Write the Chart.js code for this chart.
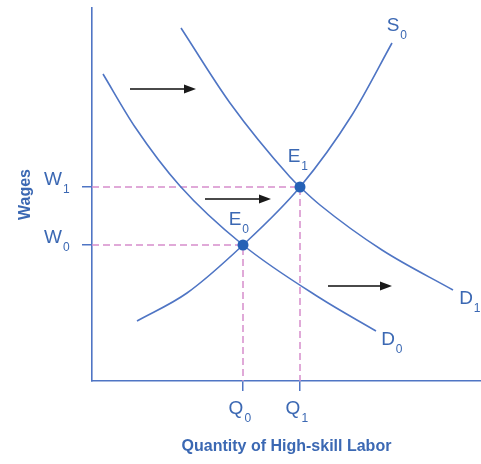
<!DOCTYPE html>
<html>
<head>
<meta charset="utf-8">
<title>High-skill Labor Market</title>
<script src="https://cdn.jsdelivr.net/npm/chart.js"></script>
<style>
    html, body { margin: 0; padding: 0; background: #fff; }
    #wrap { width: 481px; height: 464px; }
</style>
</head>
<body>
<div id="wrap"><canvas id="laborChart" width="481" height="464"></canvas></div>
<script>
// Curves (arbitrary units: quantity on x, wage on y)
const demand0 = [[11, 307], [43, 254], [88, 195], [151, 136], [228, 83], [284, 50]];
const demand1 = [[89, 353], [138, 278], [198, 204], [208, 194], [228, 176], [290, 131], [361, 91]];
const supply0 = [[45, 60], [95, 88], [151, 136], [208, 194], [260, 266], [300, 338]];

// Equilibria and axis ticks
const quantityTicks = [151, 208];
const quantityLabels = [['Q', '0'], ['Q', '1']];
const wageTicks = [136, 194];
const wageLabels = [['W', '0'], ['W', '1']];
const equilibria = [[151, 136], [208, 194]];
const equilibriumLabels = [['E', '0'], ['E', '1']];

// Shift arrows: [x start, x end, y]
const shiftArrows = [[38, 104, 292], [113, 179, 182], [236, 300, 95]];

const curveLabels = [
    { name: ['S', '0'], at: supply0[supply0.length - 1], dx: 1, dy: -17 },
    { name: ['D', '1'], at: demand1[demand1.length - 1], dx: 13, dy: 9 },
    { name: ['D', '0'], at: demand0[demand0.length - 1], dx: 12, dy: 9 }
];

const BLUE = '#4f75c4';
const TEXT = '#3b68b3';
const PINK = '#d68dcb';
const DOT = '#2561b6';

const toPts = arr => arr.map(p => ({ x: p[0], y: p[1] }));

function curve(label, arr) {
    return {
        label: label,
        data: toPts(arr),
        borderColor: BLUE,
        borderWidth: 1.6,
        pointRadius: 0,
        cubicInterpolationMode: 'monotone',
        showLine: true,
        fill: false,
        order: 3
    };
}

function dashed(i) {
    return {
        label: 'guide' + i,
        data: [{ x: 0, y: wageTicks[i] }, { x: quantityTicks[i], y: wageTicks[i] }, { x: quantityTicks[i], y: 0 }],
        borderColor: PINK,
        borderWidth: 1.5,
        borderDash: [7, 4],
        pointRadius: 0,
        showLine: true,
        tension: 0,
        order: 5
    };
}

const datasets = [dashed(0), dashed(1), curve('D0', demand0), curve('D1', demand1), curve('S0', supply0)];

shiftArrows.forEach((a, i) => {
    datasets.push({
        label: 'arrow' + i,
        data: [{ x: a[0], y: a[2] }, { x: a[1] - 8, y: a[2] }],
        borderColor: '#4a4a4a',
        borderWidth: 2,
        pointRadius: 0,
        showLine: true,
        order: 2
    });
});

datasets.push({
    label: 'equilibrium',
    data: toPts(equilibria),
    pointRadius: 5.5,
    pointBorderWidth: 0,
    pointBackgroundColor: DOT,
    pointBorderColor: DOT,
    showLine: false,
    order: 0
});

function drawSub(ctx, x, y, pair) {
    ctx.font = '19px "Liberation Sans", Arial, sans-serif';
    const w = ctx.measureText(pair[0]).width;
    ctx.textAlign = 'left';
    ctx.textBaseline = 'middle';
    ctx.fillText(pair[0], x - w / 2, y);
    ctx.font = '12px "Liberation Sans", Arial, sans-serif';
    ctx.fillText(pair[1], x + w / 2 + 1, y + 10);
}

const annotations = {
    id: 'annotations',
    afterDatasetsDraw(chart) {
        const ctx = chart.ctx;
        const xs = chart.scales.x;
        const ys = chart.scales.y;
        ctx.save();

        // arrow heads
        ctx.fillStyle = '#1a1a1a';
        shiftArrows.forEach(a => {
            const tx = xs.getPixelForValue(a[1]);
            const ty = ys.getPixelForValue(a[2]);
            ctx.beginPath();
            ctx.moveTo(tx, ty);
            ctx.lineTo(tx - 12, ty - 4.5);
            ctx.lineTo(tx - 12, ty + 4.5);
            ctx.closePath();
            ctx.fill();
        });

        ctx.fillStyle = TEXT;
        wageTicks.forEach((v, i) => {
            drawSub(ctx, xs.left - 39, ys.getPixelForValue(v) - 7, wageLabels[i]);
        });
        quantityTicks.forEach((v, i) => {
            drawSub(ctx, xs.getPixelForValue(v) - 7, ys.bottom + 28, quantityLabels[i]);
        });
        equilibria.forEach((p, i) => {
            const off = i === 0 ? [-8, -25] : [-6, -30];
            drawSub(ctx, xs.getPixelForValue(p[0]) + off[0], ys.getPixelForValue(p[1]) + off[1], equilibriumLabels[i]);
        });
        curveLabels.forEach(c => {
            drawSub(ctx, xs.getPixelForValue(c.at[0]) + c.dx, ys.getPixelForValue(c.at[1]) + c.dy, c.name);
        });
        ctx.restore();
    }
};

const titleFont = { family: '"Liberation Sans", Arial, sans-serif', size: 16, weight: 'bold', lineHeight: 1.2 };

new Chart(document.getElementById('laborChart'), {
    type: 'scatter',
    data: { datasets: datasets },
    options: {
        responsive: false,
        animation: false,
        layout: { autoPadding: false, padding: { left: 0, top: 8, right: 0, bottom: 0 } },
        plugins: {
            legend: { display: false },
            tooltip: { enabled: false }
        },
        scales: {
            x: {
                type: 'linear',
                min: 0,
                max: 389,
                afterBuildTicks: scale => { scale.ticks = quantityTicks.map(v => ({ value: v })); },
                ticks: { display: false },
                grid: { drawOnChartArea: false, drawTicks: true, tickLength: 10, color: BLUE, lineWidth: 1.5 },
                border: { display: true, color: BLUE, width: 1.6 },
                title: {
                    display: true,
                    text: 'Quantity of High-skill Labor',
                    color: TEXT,
                    font: titleFont,
                    padding: { top: 46.4, bottom: 7.4 }
                }
            },
            y: {
                type: 'linear',
                min: 0,
                max: 373,
                afterBuildTicks: scale => { scale.ticks = wageTicks.map(v => ({ value: v })); },
                ticks: { display: false },
                grid: { drawOnChartArea: false, drawTicks: true, tickLength: 10, color: BLUE, lineWidth: 1.5 },
                border: { display: true, color: BLUE, width: 1.6 },
                title: {
                    display: true,
                    text: 'Wages',
                    color: TEXT,
                    font: titleFont,
                    padding: { top: 16.4, bottom: 46.4 }
                }
            }
        }
    },
    plugins: [annotations]
});
</script>
</body>
</html>
